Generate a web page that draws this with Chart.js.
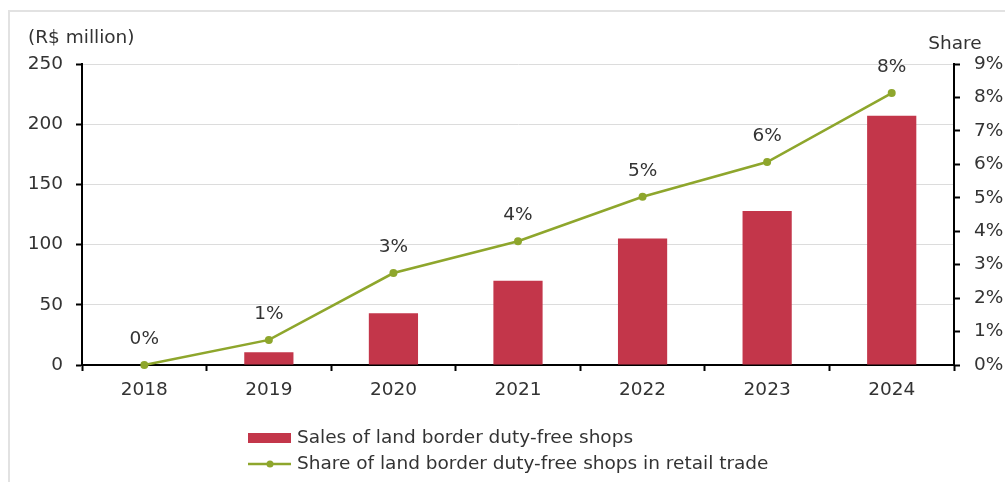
<!DOCTYPE html>
<html>
<head>
<meta charset="utf-8">
<script src="https://cdn.jsdelivr.net/npm/chart.js@4"></script>
<style>
  html, body { margin: 0; padding: 0; background: #fff; overflow: hidden; }
  #wrap { position: relative; width: 1005px; height: 482px; overflow: hidden; }
  #frame { position: absolute; left: 8px; top: 10px; width: 1100px; height: 600px;
           border-left: 2px solid #e2e2e2; border-top: 2px solid #e2e2e2; }
  canvas { position: absolute; left: 0; top: 0; }
</style>
</head>
<body>
<div id="wrap">
  <div id="frame"></div>
  <canvas id="chart" width="1005" height="482"></canvas>
</div>
<script>
const years = ['2018', '2019', '2020', '2021', '2022', '2023', '2024'];
const salesValues = [0, 10.5, 43, 70, 105, 128, 207];
const shareValues = [0, 0.75, 2.75, 3.7, 5.03, 6.07, 8.13];
const salesLabel = 'Sales of land border duty-free shops';
const shareLabel = 'Share of land border duty-free shops in retail trade';

const FONT = '"DejaVu Sans", sans-serif';
const FSIZE = 18.5;
const TEXT = '#333333';
const BAR_COLOR = '#c3364a';
const LINE_COLOR = '#8ea62c';

// labels, axis titles and legend drawn on the canvas
const extras = {
  id: 'extras',
  afterDatasetsDraw(chart) {
    const ctx = chart.ctx;
    ctx.save();
    ctx.font = FSIZE + 'px ' + FONT;
    ctx.fillStyle = TEXT;
    // point labels
    ctx.textAlign = 'center';
    ctx.textBaseline = 'middle';
    chart.getDatasetMeta(1).data.forEach((pt, i) => {
      ctx.fillText(Math.round(shareValues[i]) + '%', pt.x, pt.y - 26);
    });
    // axis titles
    ctx.textAlign = 'left';
    ctx.fillText('(R$ million)', 28, 38);
    ctx.textAlign = 'center';
    ctx.fillText('Share', 955, 44);
    // legend
    ctx.fillStyle = BAR_COLOR;
    ctx.fillRect(248, 433, 43, 10);
    ctx.strokeStyle = LINE_COLOR;
    ctx.lineWidth = 2.5;
    ctx.beginPath();
    ctx.moveTo(248, 464);
    ctx.lineTo(291, 464);
    ctx.stroke();
    ctx.fillStyle = LINE_COLOR;
    ctx.beginPath();
    ctx.arc(270, 464, 3.5, 0, Math.PI * 2);
    ctx.fill();
    ctx.fillStyle = TEXT;
    ctx.textAlign = 'left';
    ctx.fillText(chart.data.datasets[0].label, 297, 438);
    ctx.fillText(chart.data.datasets[1].label, 297, 464);
    ctx.restore();
  }
};

new Chart(document.getElementById('chart'), {
  type: 'bar',
  data: {
    labels: years,
    datasets: [
      {
        type: 'bar',
        label: salesLabel,
        data: salesValues,
        backgroundColor: BAR_COLOR,
        borderWidth: 0,
        categoryPercentage: 1,
        barPercentage: 0.395,
        yAxisID: 'y',
        order: 1
      },
      {
        type: 'line',
        label: shareLabel,
        data: shareValues,
        borderColor: LINE_COLOR,
        backgroundColor: LINE_COLOR,
        borderWidth: 2.5,
        pointRadius: 4,
        pointBorderWidth: 0,
        tension: 0,
        clip: false,
        yAxisID: 'y1',
        order: 0
      }
    ]
  },
  options: {
    responsive: false,
    animation: false,
    layout: { padding: { top: 64, left: 0, right: 0, bottom: 0 } },
    plugins: { legend: { display: false }, tooltip: { enabled: false } },
    scales: {
      x: {
        grid: { drawOnChartArea: false, offset: true, tickLength: 6, tickColor: '#000', tickWidth: 2 },
        border: { color: '#000', width: 2 },
        ticks: { color: TEXT, font: { family: FONT, size: FSIZE }, padding: 8 },
        afterFit(s) { s.height = 117; }
      },
      y: {
        position: 'left',
        min: 0, max: 250,
        ticks: { stepSize: 50, color: TEXT, font: { family: FONT, size: FSIZE }, padding: 13 },
        grid: { color: '#dcdcdc', lineWidth: 1, tickLength: 6, tickColor: '#000', tickWidth: 2 },
        border: { color: '#000', width: 2 },
        afterFit(s) { s.width = 82; }
      },
      y1: {
        position: 'right',
        min: 0, max: 9,
        ticks: { stepSize: 1, color: TEXT, font: { family: FONT, size: FSIZE }, padding: 14,
                 callback: v => v + '%' },
        grid: { drawOnChartArea: false, tickLength: 6, tickColor: '#000', tickWidth: 2 },
        border: { color: '#000', width: 2 },
        afterFit(s) { s.width = 51; }
      }
    }
  },
  plugins: [extras]
});
</script>
</body>
</html>
